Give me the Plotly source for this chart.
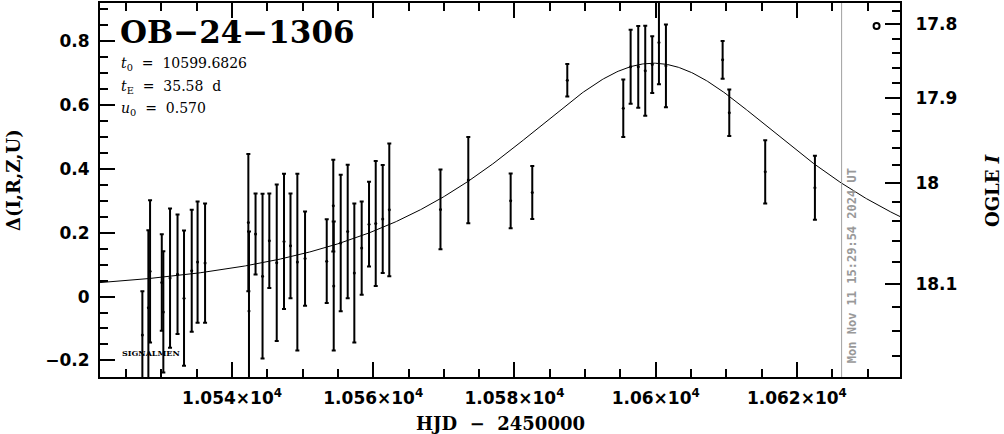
import numpy as np
import plotly.graph_objects as go

# ---------------- data ----------------
EVENT = "OB\u221224\u22121306"
T0 = 10599.6826
TE = 35.58
U0 = 0.570
NOW_HJD = 10626.33
NOW_TEXT = "Mon Nov 11 15:29:54 2024 UT"

hjd = [10527.30, 10528.15, 10528.39, 10530.05, 10530.27, 10531.22, 10532.28, 10533.20,
       10534.29, 10535.12, 10536.18, 10542.31, 10542.40, 10543.33, 10544.32, 10545.28,
       10546.33, 10547.36, 10548.28, 10549.25, 10550.34, 10553.41, 10554.34, 10554.40,
       10555.39, 10556.38, 10557.32, 10558.36, 10559.40, 10560.35, 10561.34, 10562.27,
       10569.52, 10573.46, 10579.46, 10582.52, 10587.48, 10595.41, 10596.45, 10597.53,
       10598.52, 10599.51, 10600.46, 10601.45, 10609.48, 10610.42, 10615.51, 10622.55]
delta = [-0.120, -0.035, 0.079, 0.044, -0.048, 0.058, 0.070, -0.005,
         0.081, 0.108, 0.105, 0.232, -0.045, 0.196, 0.064, 0.175,
         0.106, 0.173, 0.159, 0.108, 0.119, 0.111, 0.285, 0.033,
         0.168, 0.204, 0.074, 0.152, 0.227, 0.229, 0.243, 0.272,
         0.273, 0.365, 0.300, 0.326, 0.678, 0.590, 0.720, 0.720,
         0.708, 0.727, 0.796, 0.723, 0.742, 0.576, 0.391, 0.341]
err = [0.137, 0.243, 0.223, 0.151, 0.190, 0.218, 0.187, 0.212,
       0.191, 0.190, 0.187, 0.215, 0.249, 0.127, 0.258, 0.148,
       0.245, 0.212, 0.164, 0.277, 0.148, 0.131, 0.144, 0.202,
       0.214, 0.209, 0.218, 0.146, 0.133, 0.196, 0.169, 0.208,
       0.125, 0.135, 0.086, 0.083, 0.051, 0.090, 0.116, 0.128,
       0.141, 0.089, 0.131, 0.130, 0.059, 0.073, 0.099, 0.100]

# legend symbol (OGLE)
sym_x = [10631.28]
sym_y = [0.848]

x_range = [10521.3, 10634.6]
y_range = [-0.252, 0.920]
x_tickvals = [10540, 10560, 10580, 10600, 10620]
x_ticktext = ["1.054\u00d710<sup>4</sup>", "1.056\u00d710<sup>4</sup>", "1.058\u00d710<sup>4</sup>",
              "1.06\u00d710<sup>4</sup>", "1.062\u00d710<sup>4</sup>"]

# right axis: OGLE I magnitude
I_BASE = 18.111
FS = 0.278
ogle_ticks = [17.8, 17.9, 18.0, 18.1]
ogle_text = ["17.8", "17.9", "18", "18.1"]
ogle_minor = [17.76, 17.78, 17.82, 17.84, 17.86, 17.88, 17.92, 17.94, 17.96, 17.98,
              18.02, 18.04, 18.06, 18.08, 18.12, 18.14, 18.16, 18.18]


def mag_to_delta(m):
    f = 10 ** (-0.4 * (np.asarray(m) - I_BASE))
    x = (f - (1 - FS)) / FS
    return 2.5 * np.log10(x)


# model curve
tt = np.linspace(x_range[0], x_range[1], 600)
u = np.sqrt(U0 ** 2 + ((tt - T0) / TE) ** 2)
A = (u ** 2 + 2) / (u * np.sqrt(u ** 2 + 4))
model = 2.5 * np.log10(A)

fig = go.Figure()
fig.add_trace(go.Scatter(x=tt, y=model, mode="lines", line=dict(color="black", width=1),
                         hoverinfo="skip"))
fig.add_trace(go.Scatter(x=hjd, y=delta, mode="markers",
                         marker=dict(color="black", size=3),
                         error_y=dict(type="data", array=err, color="black", thickness=2, width=2)))
fig.add_trace(go.Scatter(x=sym_x, y=sym_y, mode="markers", yaxis="y2",
                         marker=dict(symbol="circle-open", color="black", size=6,
                                     line=dict(width=2, color="black"))))

fig.add_vline(x=NOW_HJD, line=dict(color="#a0a0a0", width=1))

tickfont = dict(family="DejaVu Sans", size=17, color="black", weight="bold")
serif = "DejaVu Serif"

fig.update_layout(
    width=1004, height=434,
    margin=dict(l=100, r=104, t=1, b=57),
    plot_bgcolor="white", paper_bgcolor="white",
    showlegend=False,
    xaxis=dict(range=x_range, tickmode="array", tickvals=x_tickvals, ticktext=x_ticktext,
               ticks="inside", ticklen=15, tickwidth=2, tickcolor="black",
               showline=True, linewidth=2, linecolor="black", mirror="ticks",
               showgrid=False, zeroline=False, tickfont=tickfont, ticklabelstandoff=5,
               minor=dict(tickmode="linear", tick0=10540, dtick=5, ticks="inside",
                          ticklen=8, tickwidth=2, tickcolor="black", showgrid=False)),
    yaxis=dict(range=y_range, tickmode="linear", tick0=0, dtick=0.2,
               ticks="inside", ticklen=15, tickwidth=2, tickcolor="black",
               showline=True, linewidth=2, linecolor="black",
               showgrid=False, zeroline=False, tickfont=tickfont, ticklabelstandoff=5,
               minor=dict(tickmode="linear", tick0=0, dtick=0.05, ticks="inside",
                          ticklen=8, tickwidth=2, tickcolor="black", showgrid=False)),
    yaxis2=dict(range=y_range, overlaying="y", side="right", tickmode="array",
                tickvals=list(mag_to_delta(ogle_ticks)), ticktext=ogle_text,
                ticks="inside", ticklen=15, tickwidth=2, tickcolor="black",
                showline=True, linewidth=2, linecolor="black",
                showgrid=False, zeroline=False, tickfont=tickfont, ticklabelstandoff=10,
                minor=dict(tickmode="array", tickvals=list(mag_to_delta(ogle_minor)),
                           ticks="inside", ticklen=8, tickwidth=2, tickcolor="black",
                           showgrid=False)),
)

ann = []
ann.append(dict(text=EVENT, xref="paper", yref="paper", x=0.0225, y=(377 - 30) / 376,
                xanchor="left", yanchor="middle", showarrow=False,
                font=dict(family=serif, size=31, color="black", weight="bold")))
params = [("<i>t</i><sub>0</sub> \u00a0=\u00a0 10599.6826", 62),
          ("<i>t</i><sub>E</sub> \u00a0=\u00a0 35.58 \u00a0d", 85),
          ("<i>u</i><sub>0</sub> \u00a0=\u00a0 0.570", 108)]
for txt, py in params:
    ann.append(dict(text=txt, xref="paper", yref="paper", x=0.024, y=(377 - py) / 376,
                    xanchor="left", yanchor="middle", showarrow=False,
                    font=dict(family=serif, size=14, color="black")))
ann.append(dict(text="SIGNALMEN", xref="paper", yref="paper", x=0.025, y=(377 - 353) / 376,
                xanchor="left", yanchor="middle", showarrow=False,
                font=dict(family=serif, size=8, color="black", weight="bold")))
ann.append(dict(text=NOW_TEXT, x=NOW_HJD, xref="x", yref="paper", y=(377 - 365) / 376,
                xshift=1, xanchor="left", yanchor="bottom", textangle=-90, showarrow=False,
                font=dict(family="DejaVu Sans Mono", size=12, color="#999999", weight="bold")))
ann.append(dict(text="HJD \u00a0\u2212\u00a0 2450000", xref="paper", yref="paper", x=0.5,
                y=(377 - 424) / 376, xanchor="center", yanchor="middle", showarrow=False,
                font=dict(family=serif, size=18, color="black", weight="bold")))
ann.append(dict(text="\u0394(I,R,Z,U)", xref="paper", yref="paper", x=(13 - 100) / 800,
                y=(377 - 179) / 376, xanchor="center", yanchor="middle", textangle=-90,
                showarrow=False, font=dict(family=serif, size=18, color="black", weight="bold")))
ann.append(dict(text="OGLE <i>I</i>", xref="paper", yref="paper", x=(993 - 100) / 800,
                y=(377 - 190) / 376, xanchor="center", yanchor="middle", textangle=-90,
                showarrow=False, font=dict(family=serif, size=18, color="black", weight="bold")))
fig.update_layout(annotations=ann)

fig.write_html("out.html", config={"displayModeBar": False},
               post_script="document.body.style.margin='0px';")
